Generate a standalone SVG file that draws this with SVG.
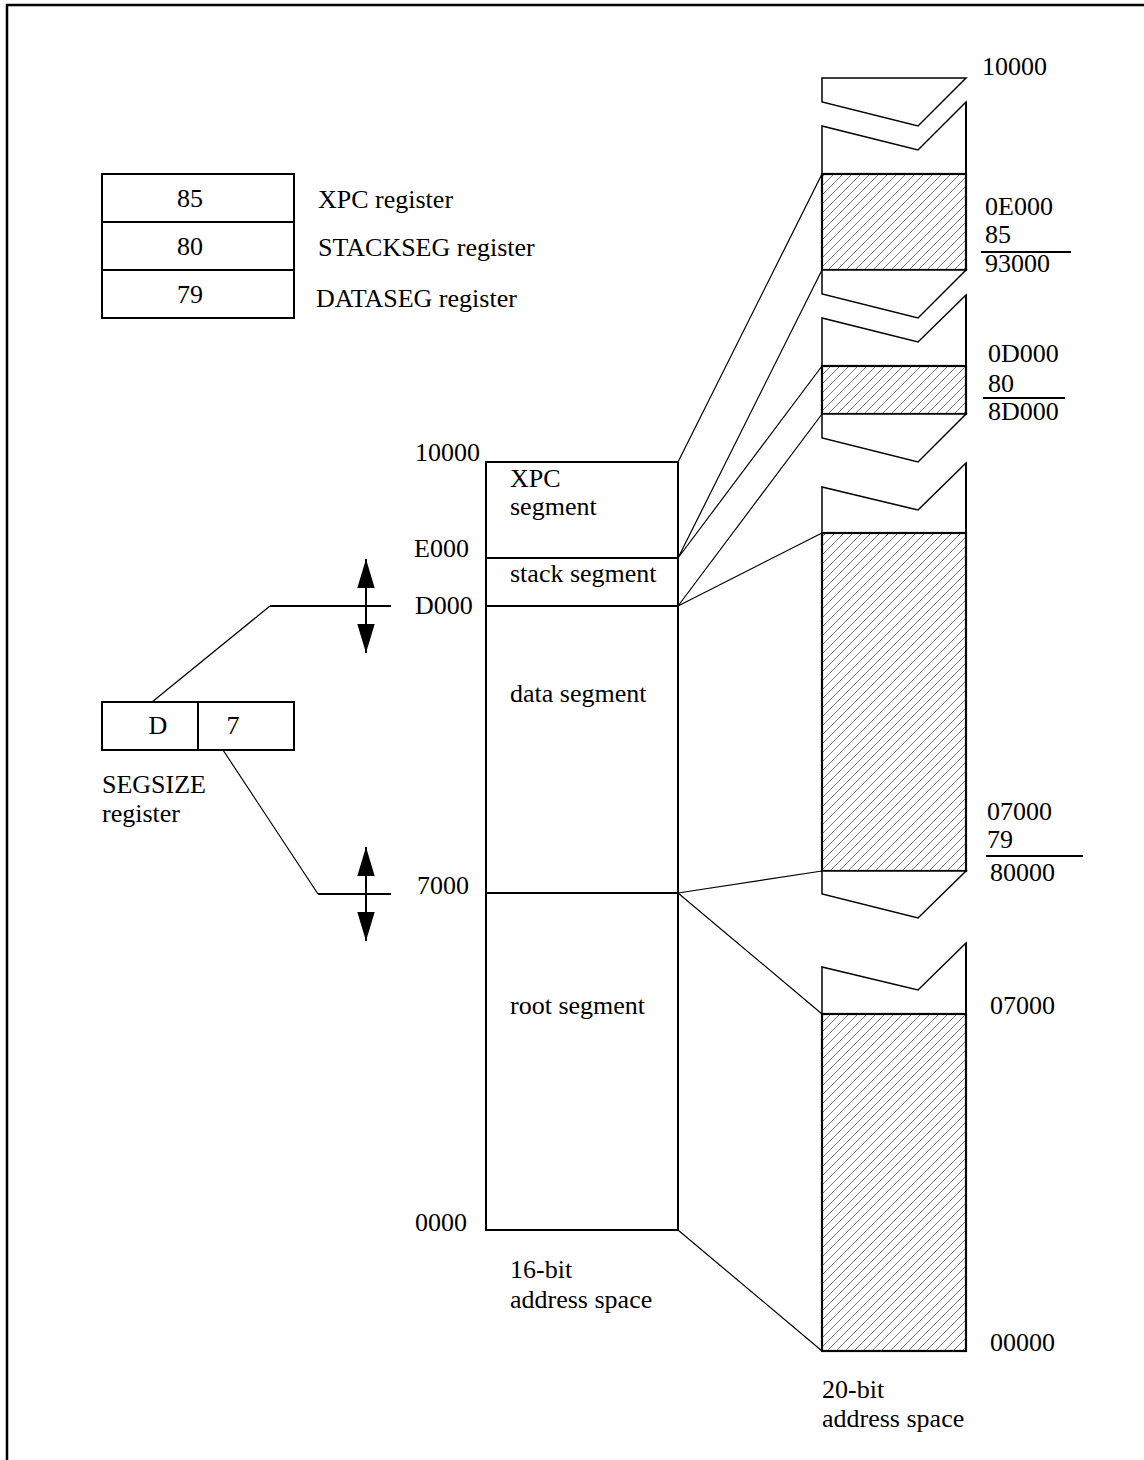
<svg xmlns="http://www.w3.org/2000/svg" width="1144" height="1460" viewBox="0 0 1144 1460">
<style>
text{font-family:"Liberation Serif","Times New Roman",serif;font-size:26px;fill:#000}
.box{fill:#fff;stroke:#000;stroke-width:2}
.thin{fill:none;stroke:#000;stroke-width:1.2}
.brk{fill:#fff;stroke:#000;stroke-width:1.5;stroke-linejoin:miter}
.thick{fill:none;stroke:#000;stroke-width:2}
.hatch{fill:url(#hatch);stroke:#000;stroke-width:2.2}
.mid{text-anchor:middle}
</style>
<defs>
<pattern id="hatch" patternUnits="userSpaceOnUse" width="9" height="9">
<rect width="9" height="9" fill="#fff"/>
<path d="M-1,1 L1,-1 M0,9 L9,0 M8,10 L10,8" stroke="#666" stroke-width="0.9"/>
</pattern>
</defs>
<path d="M7,1460 V5 H1144" fill="none" stroke="#000" stroke-width="2.5"/>

<g id="registers">
<rect class="box" x="102" y="174" width="192" height="48"/>
<rect class="box" x="102" y="222" width="192" height="48"/>
<rect class="box" x="102" y="270" width="192" height="48"/>
<text class="mid" x="190" y="207">85</text>
<text class="mid" x="190" y="255">80</text>
<text class="mid" x="190" y="303">79</text>
<text x="318" y="208">XPC register</text>
<text x="318" y="256">STACKSEG register</text>
<text x="316" y="307">DATASEG register</text>
</g>

<g id="segsize">
<rect class="box" x="102" y="702" width="96" height="48"/>
<rect class="box" x="198" y="702" width="96" height="48"/>
<text class="mid" x="158" y="734">D</text>
<text class="mid" x="233" y="734">7</text>
<text x="102" y="793">SEGSIZE</text>
<text x="102" y="822">register</text>
</g>

<g id="space16">
<rect class="box" x="486" y="462" width="192" height="96"/>
<rect class="box" x="486" y="558" width="192" height="48"/>
<rect class="box" x="486" y="606" width="192" height="287"/>
<rect class="box" x="486" y="893" width="192" height="337"/>
<text x="510" y="487">XPC</text>
<text x="510" y="515">segment</text>
<text x="510" y="582">stack segment</text>
<text x="510" y="702">data segment</text>
<text x="510" y="1014">root segment</text>
<text x="415" y="461">10000</text>
<text x="414" y="557">E000</text>
<text x="415" y="614">D000</text>
<text x="417" y="894">7000</text>
<text x="415" y="1231">0000</text>
<text x="510" y="1278">16-bit</text>
<text x="510" y="1308">address space</text>
</g>

<g id="space20">
<polygon class="brk" points="822,78 966,78 918,126 822,102"/>
<path class="brk" d="M822,174 V126 L918,150 L966,102 V174"/>
<rect class="hatch" x="822" y="174" width="144" height="96"/>
<polygon class="brk" points="822,270 822,294 918,318 966,270"/>
<path class="brk" d="M822,366 V318 L918,342 L966,295 V366"/>
<rect class="hatch" x="822" y="366" width="144" height="48"/>
<polygon class="brk" points="822,414 822,438 918,462 966,414"/>
<path class="brk" d="M822,533 V487 L918,510 L966,463 V533"/>
<rect class="hatch" x="822" y="533" width="144" height="338"/>
<polygon class="brk" points="822,871 822,894 918,918 966,871"/>
<path class="brk" d="M822,1014 V967 L918,990 L966,943 V1014"/>
<rect class="hatch" x="822" y="1014" width="144" height="337"/>
<path d="M966,102 V174 M966,295 V366 M966,463 V533 M966,943 V1014" stroke="#000" stroke-width="2" fill="none"/>
<text x="982" y="75">10000</text>
<text x="985" y="215">0E000</text>
<text x="985" y="243">85</text>
<line x1="981" y1="252" x2="1071" y2="252" stroke="#000" stroke-width="2"/>
<text x="985" y="272">93000</text>
<text x="988" y="362">0D000</text>
<text x="988" y="392">80</text>
<line x1="983" y1="398" x2="1065" y2="398" stroke="#000" stroke-width="2"/>
<text x="988" y="420">8D000</text>
<text x="987" y="820">07000</text>
<text x="987" y="848">79</text>
<line x1="986" y1="856" x2="1083" y2="856" stroke="#000" stroke-width="2"/>
<text x="990" y="881">80000</text>
<text x="990" y="1014">07000</text>
<text x="990" y="1351">00000</text>
<text x="822" y="1398">20-bit</text>
<text x="822" y="1427">address space</text>
</g>

<g id="connectors">
<path class="thin" d="M678,462 L822,174 M678,558 L822,270 M678,558 L822,366 M678,606 L822,414 M678,606 L822,533 M678,893 L822,871 M678,893 L822,1014 M678,1230 L822,1351"/>
<path class="thin" d="M152,702 L270,606 M223,750 L318,894"/>
<path class="thick" d="M270,606 H391 M318,894 H391"/>
<path class="thick" d="M366,606 V559 M366,606 V653 M366,894 V847 M366,894 V941"/>
<path d="M366,559 L357.3,588 L374.7,588 Z M366,653 L357.3,624 L374.7,624 Z M366,847 L357.3,876 L374.7,876 Z M366,941 L357.3,912 L374.7,912 Z" fill="#000"/>
</g>
</svg>
